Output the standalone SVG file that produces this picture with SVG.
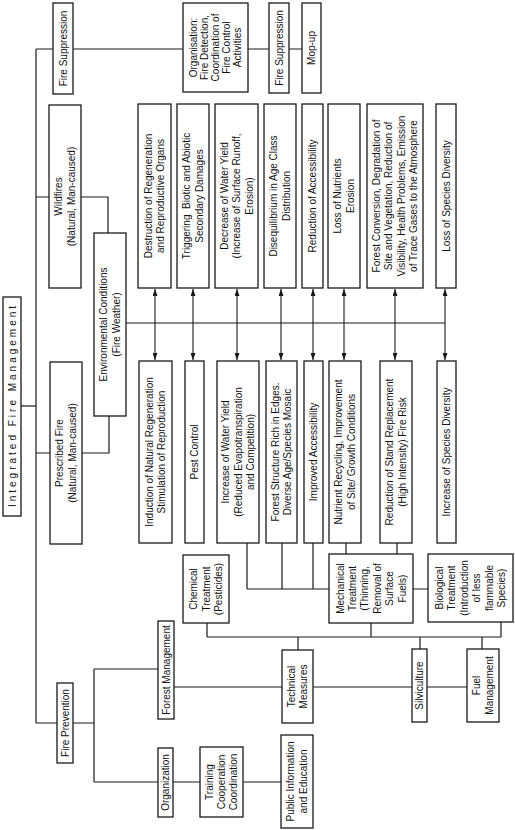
<svg xmlns="http://www.w3.org/2000/svg" width="515" height="830" viewBox="0 0 515 830">
<style>
.b{fill:#fff;stroke:#1a1a1a;stroke-width:1.3}
.l{fill:none;stroke:#1a1a1a;stroke-width:1.2}
.a{fill:none;stroke:#1a1a1a;stroke-width:1.1;marker-start:url(#ah);marker-end:url(#ah)}
text{font-family:"Liberation Sans",Arial,sans-serif;font-size:10px;fill:#111;text-anchor:middle}
.sp{letter-spacing:3px}
</style>
<defs>
<marker id="ah" markerUnits="userSpaceOnUse" markerWidth="7" markerHeight="5" refX="7" refY="2.5" orient="auto-start-reverse">
<path d="M0,0 L7,2.5 L0,5 z" fill="#1a1a1a"/>
</marker>
</defs>
<rect width="515" height="830" fill="#fff"/>
<g id="connectors">
<path class="l" d="M36,49 V723"/>
<path class="l" d="M36,49 H53 M73,49 H183 M248,49 H269 M289,49 H302"/>
<path class="l" d="M36,197 H49 M81,197 H108 V233"/>
<path class="l" d="M21,406 H36"/>
<path class="l" d="M36,453 H50 M82,453 H109 V416"/>
<path class="l" d="M36,723 H57 M73,723 H94 M94,669 V782 M94,669 H158 M94,782 H158"/>
<path class="l" d="M173,782 H200 M243,782 H281"/>
<path class="l" d="M174,687 H282 M313,687 H412 M427,687 H467"/>
<path class="l" d="M298,650 V637 M207,637 H501 M207,623 V637 M371,622 V637 M501,622 V637 M420,637 V649 M482,637 V649"/>
<path class="l" d="M247,543 V589 M282,543 V589 M313,543 V589 M247,589 H329 M346,543 V554 M397,543 V554 M413,589 H428"/>
<path class="l" d="M126,323 H445"/>
<path class="a" d="M155,289 V360"/>
<path class="a" d="M193,289 V360"/>
<path class="a" d="M237,289 V360"/>
<path class="a" d="M281,289 V360"/>
<path class="a" d="M313,289 V360"/>
<path class="a" d="M344,289 V360"/>
<path class="a" d="M395,289 V360"/>
<path class="a" d="M445,289 V360"/>
</g>
<g id="integrated">
<rect class="b" x="3" y="297" width="18" height="219"/>
<text class="sp" transform="translate(12 406.5) rotate(-90)"><tspan x="1.5" y="3.5">Integrated Fire Management</tspan></text>
</g>
<g id="fire-suppression-main">
<rect class="b" x="53" y="3" width="20" height="91"/>
<text transform="translate(63 48.5) rotate(-90)"><tspan x="0" y="3.5">Fire Suppression</tspan></text>
</g>
<g id="organisation">
<rect class="b" x="183" y="3" width="65" height="89"/>
<text transform="translate(215.5 47.5) rotate(-90)"><tspan x="0" y="-18.5">Organisation:</tspan><tspan x="0" y="-7.5">Fire Detection,</tspan><tspan x="0" y="3.5">Coordination of</tspan><tspan x="0" y="14.5">Fire Control</tspan><tspan x="0" y="25.5">Activities</tspan></text>
</g>
<g id="fire-suppression">
<rect class="b" x="269" y="3" width="20" height="90"/>
<text transform="translate(279 48) rotate(-90)"><tspan x="0" y="3.5">Fire Suppression</tspan></text>
</g>
<g id="mop-up">
<rect class="b" x="302" y="3" width="19" height="90"/>
<text transform="translate(311.5 48) rotate(-90)"><tspan x="0" y="3.5">Mop-up</tspan></text>
</g>
<g id="wildfires">
<rect class="b" x="49" y="105" width="32" height="183"/>
<text transform="translate(65 196.5) rotate(-90)"><tspan x="0" y="-2.75">Wildfires</tspan><tspan x="0" y="9.75">(Natural, Man-caused)</tspan></text>
</g>
<g id="environmental">
<rect class="b" x="94" y="233" width="32" height="183"/>
<text transform="translate(110 324.5) rotate(-90)"><tspan x="0" y="-2.75">Environmental Conditions</tspan><tspan x="0" y="9.75">(Fire Weather)</tspan></text>
</g>
<g id="prescribed">
<rect class="b" x="50" y="362" width="32" height="182"/>
<text transform="translate(66 453) rotate(-90)"><tspan x="0" y="-2.75">Prescribed Fire</tspan><tspan x="0" y="9.75">(Natural, Man-caused)</tspan></text>
</g>
<g id="neg1">
<rect class="b" x="138" y="104" width="33" height="184"/>
<text transform="translate(154.5 196) rotate(-90)"><tspan x="0" y="-2.75">Destruction of Regeneration</tspan><tspan x="0" y="9.75">and Reproductive Organs</tspan></text>
</g>
<g id="neg2">
<rect class="b" x="177" y="104" width="32" height="184"/>
<text transform="translate(193 196) rotate(-90)"><tspan x="0" y="-2.75" xml:space="preserve">Triggering  Biotic and Abiotic</tspan><tspan x="0" y="9.75">Secondary Damages</tspan></text>
</g>
<g id="neg3">
<rect class="b" x="215" y="104" width="43" height="184"/>
<text transform="translate(236.5 196) rotate(-90)"><tspan x="0" y="-9">Decrease of Water Yield</tspan><tspan x="0" y="3.5">(Increase of Surface Runoff,</tspan><tspan x="0" y="16">Erosion)</tspan></text>
</g>
<g id="neg4">
<rect class="b" x="264" y="104" width="32" height="184"/>
<text transform="translate(280 196) rotate(-90)"><tspan x="0" y="-2.75">Disequilibrium in Age Class</tspan><tspan x="0" y="9.75">Distribution</tspan></text>
</g>
<g id="neg5">
<rect class="b" x="302" y="104" width="21" height="184"/>
<text transform="translate(312.5 196) rotate(-90)"><tspan x="0" y="3.5">Reduction of Accessibility</tspan></text>
</g>
<g id="neg6">
<rect class="b" x="328" y="104" width="32" height="184"/>
<text transform="translate(344 196) rotate(-90)"><tspan x="0" y="-2.75">Loss of Nutrients</tspan><tspan x="0" y="9.75">Erosion</tspan></text>
</g>
<g id="neg7">
<rect class="b" x="367" y="104" width="56" height="184"/>
<text transform="translate(395 196) rotate(-90)"><tspan x="0" y="-15.25">Forest Conversion, Degradation of</tspan><tspan x="0" y="-2.75">Site and Vegetation, Reduction of</tspan><tspan x="0" y="9.75">Visibility, Health Problems, Emission</tspan><tspan x="0" y="22.25">of Trace Gases to the Atmosphere</tspan></text>
</g>
<g id="neg8">
<rect class="b" x="436" y="104" width="20" height="184"/>
<text transform="translate(446 196) rotate(-90)"><tspan x="0" y="3.5">Loss of Species Diversity</tspan></text>
</g>
<g id="pos1">
<rect class="b" x="139" y="361" width="33" height="182"/>
<text transform="translate(155.5 452) rotate(-90)"><tspan x="0" y="-2.75">Induction of Natural Regeneration</tspan><tspan x="0" y="9.75">Stimulation of Reproduction</tspan></text>
</g>
<g id="pos2">
<rect class="b" x="185" y="361" width="19" height="182"/>
<text transform="translate(194.5 452) rotate(-90)"><tspan x="0" y="3.5">Pest Control</tspan></text>
</g>
<g id="pos3">
<rect class="b" x="217" y="361" width="42" height="182"/>
<text transform="translate(238 452) rotate(-90)"><tspan x="0" y="-9">Increase of Water Yield</tspan><tspan x="0" y="3.5">(Reduced Evapotranspiration</tspan><tspan x="0" y="16">and Competition)</tspan></text>
</g>
<g id="pos4">
<rect class="b" x="266" y="361" width="31" height="182"/>
<text transform="translate(281.5 452) rotate(-90)"><tspan x="0" y="-2.75">Forest Structure Rich in Edges.</tspan><tspan x="0" y="9.75">Diverse Age/Species Mosaic</tspan></text>
</g>
<g id="pos5">
<rect class="b" x="304" y="361" width="19" height="182"/>
<text transform="translate(313.5 452) rotate(-90)"><tspan x="0" y="3.5">Improved Accessibility</tspan></text>
</g>
<g id="pos6">
<rect class="b" x="329" y="361" width="32" height="182"/>
<text transform="translate(345 452) rotate(-90)"><tspan x="0" y="-2.75">Nutrient Recycling, Improvement</tspan><tspan x="0" y="9.75">of Site/ Growth Conditions</tspan></text>
</g>
<g id="pos7">
<rect class="b" x="380" y="361" width="32" height="182"/>
<text transform="translate(396 452) rotate(-90)"><tspan x="0" y="-2.75">Reduction of Stand Replacement</tspan><tspan x="0" y="9.75">(High Intensity) Fire Risk</tspan></text>
</g>
<g id="pos8">
<rect class="b" x="437" y="361" width="19" height="182"/>
<text transform="translate(446.5 452) rotate(-90)"><tspan x="0" y="3.5">Increase of Species Diversity</tspan></text>
</g>
<g id="chemical">
<rect class="b" x="183" y="555" width="46" height="68"/>
<text transform="translate(206 589) rotate(-90)"><tspan x="0" y="-9">Chemical</tspan><tspan x="0" y="3.5">Treatment</tspan><tspan x="0" y="16">(Pesticides)</tspan></text>
</g>
<g id="mechanical">
<rect class="b" x="329" y="554" width="84" height="69"/>
<text transform="translate(371 588.5) rotate(-90)"><tspan x="0" y="-27.5">Mechanical</tspan><tspan x="0" y="-15.1">Treatment</tspan><tspan x="0" y="-2.7">(Thinning,</tspan><tspan x="0" y="9.7">Removal of</tspan><tspan x="0" y="22.1">Surface</tspan><tspan x="0" y="34.5">Fuels)</tspan></text>
</g>
<g id="biological">
<rect class="b" x="428" y="554" width="85" height="68"/>
<text transform="translate(470.5 588) rotate(-90)"><tspan x="0" y="-27.5">Biological</tspan><tspan x="0" y="-15.1">Treatment</tspan><tspan x="0" y="-2.7">(Introduction</tspan><tspan x="0" y="9.7">of less</tspan><tspan x="0" y="22.1">flammable</tspan><tspan x="0" y="34.5">Species)</tspan></text>
</g>
<g id="fire-prevention">
<rect class="b" x="57" y="683" width="16" height="80"/>
<text transform="translate(65 723) rotate(-90)"><tspan x="0" y="3.5">Fire Prevention</tspan></text>
</g>
<g id="forest-management">
<rect class="b" x="158" y="621" width="16" height="98"/>
<text transform="translate(166 670) rotate(-90)"><tspan x="0" y="3.5">Forest Management</tspan></text>
</g>
<g id="organization">
<rect class="b" x="158" y="748" width="15" height="69"/>
<text transform="translate(165.5 782.5) rotate(-90)"><tspan x="0" y="3.5">Organization</tspan></text>
</g>
<g id="training">
<rect class="b" x="200" y="747" width="43" height="70"/>
<text transform="translate(221.5 782) rotate(-90)"><tspan x="0" y="-8.5">Training</tspan><tspan x="0" y="3.5">Cooperation</tspan><tspan x="0" y="15.5">Coordination</tspan></text>
</g>
<g id="public-information">
<rect class="b" x="281" y="735" width="32" height="93"/>
<text transform="translate(297 781.5) rotate(-90)"><tspan x="0" y="-2.75">Public Information</tspan><tspan x="0" y="9.75">and Education</tspan></text>
</g>
<g id="technical">
<rect class="b" x="282" y="650" width="31" height="73"/>
<text transform="translate(297.5 686.5) rotate(-90)"><tspan x="0" y="-2.75">Technical</tspan><tspan x="0" y="9.75">Measures</tspan></text>
</g>
<g id="silviculture">
<rect class="b" x="412" y="649" width="15" height="73"/>
<text transform="translate(419.5 685.5) rotate(-90)"><tspan x="0" y="3.5">Silviculture</tspan></text>
</g>
<g id="fuel-management">
<rect class="b" x="467" y="649" width="32" height="73"/>
<text transform="translate(483 685.5) rotate(-90)"><tspan x="0" y="-2.75">Fuel</tspan><tspan x="0" y="9.75">Management</tspan></text>
</g>
</svg>
